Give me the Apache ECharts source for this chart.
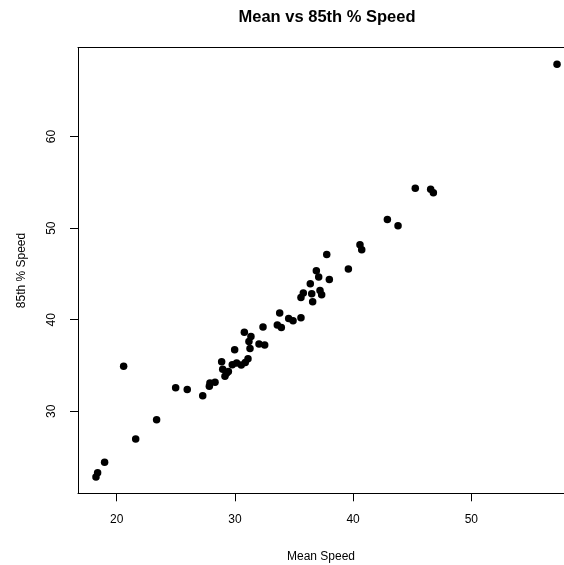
<!DOCTYPE html>
<html>
<head>
<meta charset="utf-8">
<script src="https://cdn.jsdelivr.net/npm/echarts@6/dist/echarts.min.js"></script>
<style>html,body{margin:0;padding:0;background:#fff}#c{width:564px;height:565px}</style>
</head>
<body>
<div id="c"></div>
<script>
const titleText = "Mean vs 85th % Speed";
const xName = "Mean Speed";
const yName = "85th % Speed";
const xTicks = [20, 30, 40, 50];
const yTicks = [30, 40, 50, 60];
const meanSpeed = [57.25,45.26,46.56,46.79,42.9,43.8,40.58,40.73,37.77,39.6,36.89,37.09,37.99,36.38,35.79,35.59,36.5,37.2,37.34,36.58,33.79,34.55,34.92,35.59,33.59,33.93,30.8,32.38,31.36,31.19,32.04,32.52,31.28,29.98,28.88,31.11,30.88,30.54,30.15,29.78,28.97,29.31,29.16,29.45,28.32,27.89,27.84,25.97,27.28,20.59,24.99,23.38,21.61,18.98,18.39,18.25];
const pct85Speed = [67.9,54.36,54.25,53.85,50.94,50.25,48.18,47.63,47.12,45.53,45.34,44.66,44.4,43.93,42.91,42.43,42.84,43.2,42.73,41.96,40.73,40.14,39.89,40.22,39.42,39.16,38.62,39.2,38.18,37.63,37.35,37.24,36.87,36.73,35.42,35.75,35.34,35.06,35.28,35.09,34.58,34.19,33.82,34.36,33.17,33.1,32.73,32.37,31.71,34.91,32.58,29.09,26.99,24.44,23.28,22.84];

const pts = meanSpeed.map((x, i) => [x, pct85Speed[i]]);
const chart = echarts.init(document.getElementById('c'), null, {renderer: 'canvas'});
const font = 'Liberation Sans, Arial, Helvetica, sans-serif';
const X_MIN = 16.73, X_MAX = 57.84;
chart.setOption({
  animation: false,
  backgroundColor: '#fff',
  title: {
    text: titleText, left: 322, top: 4, textAlign: 'center',
    textStyle: {fontFamily: font, fontSize: 16.5, fontWeight: 'bold', color: '#000'}
  },
  grid: {left: 78, top: 47.7, right: 0, bottom: 71.7, show: false, outerBoundsMode: 'none', containLabel: false},
  xAxis: [{
    type: 'value', min: X_MIN, max: X_MAX, position: 'bottom',
    name: xName, nameLocation: 'middle', nameGap: 57,
    nameTextStyle: {fontFamily: font, fontSize: 12, color: '#000'},
    axisLine: {show: true, onZero: false, lineStyle: {color: '#000', width: 1}},
    splitLine: {show: false},
    axisTick: {show: true, length: 8, inside: false, customValues: xTicks, lineStyle: {color: '#000'}},
    axisLabel: {customValues: xTicks, margin: 20, fontFamily: font, fontSize: 12, color: '#000'}
  }, {
    type: 'value', min: X_MIN, max: X_MAX, position: 'top',
    axisLine: {show: true, onZero: false, lineStyle: {color: '#000', width: 1}},
    axisTick: {show: false}, axisLabel: {show: false}, splitLine: {show: false}
  }],
  yAxis: {
    type: 'value', min: 21.05, max: 69.7,
    name: yName, nameLocation: 'middle', nameGap: 50, nameRotate: 90,
    nameTextStyle: {fontFamily: font, fontSize: 12, color: '#000'},
    axisLine: {show: true, onZero: false, lineStyle: {color: '#000', width: 1}},
    splitLine: {show: false},
    axisTick: {show: true, length: 8, inside: false, customValues: yTicks, lineStyle: {color: '#000'}},
    axisLabel: {customValues: yTicks, rotate: 90, margin: 20, fontFamily: font, fontSize: 12, color: '#000'}
  },
  series: [{
    type: 'scatter', data: pts, symbol: 'circle', symbolSize: 7.5,
    itemStyle: {color: '#000', opacity: 1}
  }]
});
</script>
</body>
</html>
